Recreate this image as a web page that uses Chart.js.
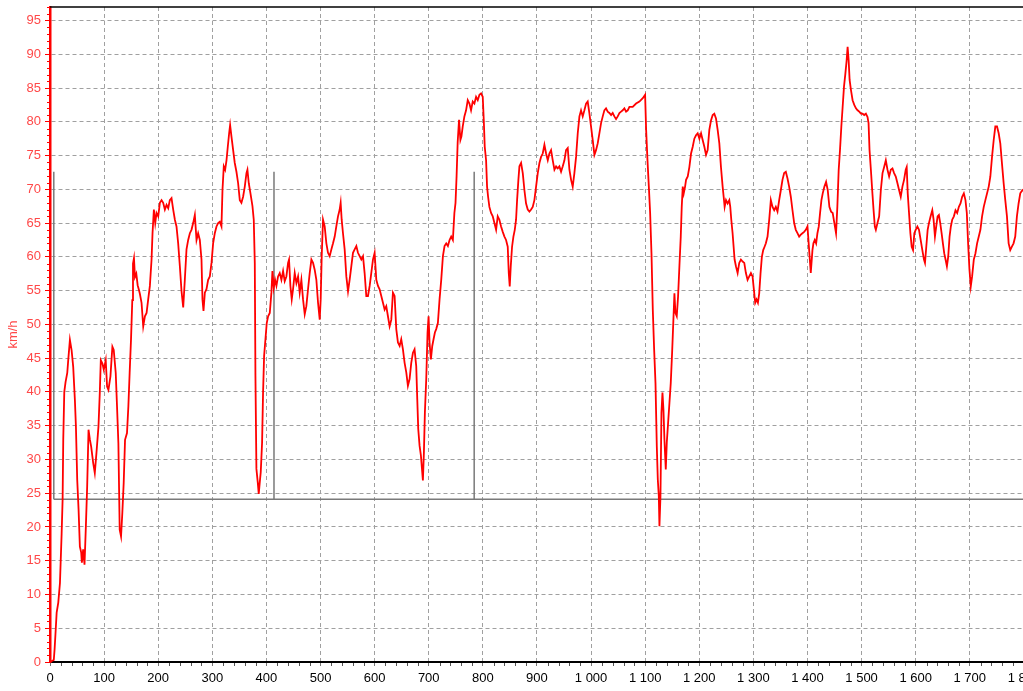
<!DOCTYPE html>
<html>
<head>
<meta charset="utf-8">
<title>Vitesse</title>
<script src="https://cdn.jsdelivr.net/npm/chart.js@4.4.1/dist/chart.umd.min.js"></script>
<style>
    html, body { margin: 0; padding: 0; background: #fff; overflow: hidden; }
    #wrap { position: absolute; left: 0; top: 0; width: 1078px; height: 691px; }
</style>
</head>
<body>
<div id="wrap"><canvas id="speed-chart" width="1078" height="691"></canvas></div>
<script>
// distance (m) et vitesse (km/h) relevées le long du parcours
const distance = [
    0, 7, 8.5, 10, 12.3, 15.3, 18.4, 21.5, 23.3, 24.5, 26.4, 28.8, 31.9, 33.7, 36.8, 39.9, 42.9, 46, 47.9, 50.3,
    52.8, 55.2, 57.7, 58.9, 61.3, 63.8, 66.3, 68.7, 71.2, 73.6, 76.1, 79.8, 82.8, 85.9, 89.6, 92, 93.9, 96.9, 99.4, 103,
    105.5, 108, 111.7, 115.3, 117.8, 121.5, 123.9, 126.4, 128.8, 131.3, 133.7, 136.2, 138.7, 142.3, 144.8, 147.2, 149.7, 152.1, 153.4, 155.2,
    157, 159.5, 162, 164.4, 166.2, 169.2, 172.3, 175.4, 178.5, 181.5, 184.6, 187.7, 189.5, 192, 194.5, 196.9, 200, 203.1, 206.2, 209.2,
    212.3, 215.4, 218.5, 221.5, 224.6, 227.7, 230.8, 233.8, 236.9, 240, 243.1, 246.2, 249.2, 252.3, 255.4, 258.5, 261.5, 264.6, 267.7, 270.8,
    273.8, 276.9, 280, 281.8, 283.7, 286.2, 289.2, 292.3, 295.4, 298.5, 301.5, 304.6, 307.7, 310.8, 313.8, 316.9, 318.8, 321.2, 323.7, 326.2,
    328.6, 331.1, 332.9, 335.4, 338.5, 341.5, 344.6, 347.7, 350.8, 353.8, 356.9, 360, 363.1, 364.9, 367.4, 370.5, 374.2, 376.6, 378.5, 379.7,
    381.5, 384, 385.8, 387.7, 389.5, 392, 393.8, 395.7, 398.2, 400.6, 403.1, 406.2, 409.2, 411.1, 413.5, 416, 418.5, 421.5, 424.6, 427.7,
    430.8, 433.8, 436.9, 440, 441.8, 444.3, 446.8, 449.2, 452.3, 455.4, 458.5, 461.5, 464.6, 467.7, 470.8, 473.8, 476.9, 480, 483.1, 486.2,
    489.2, 492.3, 495.4, 498.5, 500.3, 502.2, 504.6, 507.7, 510.8, 513.8, 516.9, 520, 523.1, 526.2, 529.2, 532.3, 535.4, 537.2, 539.1, 541.5,
    544.6, 547.7, 550.8, 553.8, 556.9, 560, 563.1, 566.2, 569.2, 572.3, 575.4, 578.5, 581.5, 584.6, 587.7, 590.8, 593.8, 596.9, 600, 603.1,
    606.2, 609.2, 612.3, 615.4, 618.5, 621.5, 624.6, 627.7, 630.8, 633.8, 636.9, 640, 643.1, 646.2, 649.2, 652.3, 655.4, 658.5, 661.5, 664.6,
    667.7, 670.8, 673.8, 676.9, 678.8, 680.6, 683.1, 685.5, 688, 689.2, 691.1, 692.9, 695.4, 697.8, 699.7, 701.5, 704, 706.5, 708.9, 711.4,
    713.8, 716.9, 720, 723.1, 726.2, 729.2, 732.3, 735.4, 738.5, 741.5, 744.6, 747.4, 749.5, 751.5, 753.5, 756, 758.5, 760.4, 762.8, 765.9,
    769, 772.1, 775.2, 778.2, 781.3, 784.4, 787.5, 790.6, 793.7, 796.7, 799.8, 801.7, 803.5, 806, 807.8, 809.7, 812.1, 815.2, 818.3, 821.4,
    824.5, 827.5, 830.6, 833.7, 836.8, 839.9, 842.9, 846, 847.9, 849.7, 851.6, 854, 856.5, 859, 861.4, 863.3, 865.7, 867.6, 870.7, 873.8,
    876.8, 879.9, 883, 886.1, 889.2, 892.2, 895.3, 898.4, 901.5, 904.6, 907.6, 910.7, 913.8, 916.9, 920, 923, 926.1, 929.2, 932.3, 935.4,
    938.4, 941.5, 944.6, 947.7, 950.8, 953.8, 956.9, 960, 963.1, 966.1, 969.2, 972.3, 975.4, 978.5, 981.5, 984.6, 987.7, 990.8, 993.8, 996.9,
    1000, 1003.1, 1006.2, 1009.2, 1012.3, 1015.4, 1018.5, 1021.6, 1024.6, 1027.7, 1030.8, 1033.9, 1037, 1040, 1043.1, 1046.2, 1049.3, 1052.4, 1055.5, 1058.5,
    1061.6, 1064.7, 1067.8, 1070.9, 1077, 1083.2, 1089.4, 1095.6, 1099.9, 1101.8, 1104.3, 1106.8, 1109.2, 1111.7, 1114.1, 1116.6, 1119.1, 1121.5, 1123.4, 1125.2,
    1126.4, 1128.3, 1130.1, 1132, 1133.8, 1135.6, 1138.1, 1140, 1142.4, 1144.9, 1147.3, 1149.8, 1152.2, 1154.1, 1155.9, 1158.4, 1160.8, 1163.3, 1165.8, 1167.6,
    1169.5, 1171.3, 1173.8, 1175.6, 1178.7, 1181.7, 1184.8, 1187.9, 1190.9, 1194, 1197.1, 1200.2, 1203.3, 1206.3, 1209.4, 1212.5, 1215.5, 1218.6, 1221.7, 1224.8,
    1227.8, 1230.9, 1234, 1237.1, 1240.1, 1243.2, 1245.1, 1246.9, 1249.4, 1252.4, 1255.5, 1257.3, 1259.2, 1261.6, 1263.5, 1265.3, 1267.8, 1270.9, 1273.9, 1277,
    1280.1, 1283.2, 1286.2, 1289.3, 1292.4, 1295.5, 1298.5, 1301, 1303.4, 1305.9, 1308.4, 1310.8, 1313.3, 1315.7, 1318.2, 1320.7, 1323.1, 1326.2, 1329.3, 1332.3,
    1335.4, 1338.5, 1341.5, 1344.6, 1347.7, 1350.8, 1353.8, 1356.9, 1360, 1363.1, 1366.1, 1369.2, 1372.3, 1375.4, 1378.4, 1381.5, 1384.6, 1387.7, 1390.7, 1393.8,
    1396.9, 1400, 1403.1, 1406.1, 1409.2, 1411, 1413.5, 1416, 1418.4, 1420.9, 1423.3, 1425.8, 1428.2, 1431.3, 1434.4, 1437.4, 1440.5, 1443.6, 1446.6, 1449.7,
    1452.8, 1455.2, 1457.7, 1460.1, 1462.6, 1465, 1467.5, 1470, 1472.4, 1474.2, 1476.1, 1477.9, 1480.4, 1483.4, 1486.5, 1489.6, 1492.6, 1495.7, 1498.8, 1501.8,
    1504.9, 1508, 1511, 1512.9, 1514.7, 1517.2, 1519.6, 1522.1, 1524.5, 1526.4, 1529.4, 1532.5, 1535.6, 1538.7, 1541.7, 1544.8, 1547.9, 1550.9, 1554, 1557.1,
    1560.1, 1563.2, 1566.3, 1569.3, 1572.4, 1575.5, 1578.5, 1581.6, 1583.4, 1585.3, 1587.7, 1590.2, 1592.6, 1595.1, 1597.5, 1600, 1603.1, 1606.1, 1609.2, 1612.3,
    1615.3, 1617.2, 1619.6, 1622.1, 1624.5, 1627.6, 1630.7, 1633.1, 1635.6, 1638, 1640.5, 1642.9, 1645.4, 1647.9, 1650.3, 1652.8, 1655.2, 1657.7, 1660.1, 1662.6,
    1665, 1667.5, 1670.6, 1673.6, 1676.7, 1679.8, 1682.8, 1685.9, 1689, 1692, 1694.5, 1696.9, 1699.4, 1701.8, 1704.3, 1707.4, 1710.4, 1713.5, 1716.6, 1719.6,
    1722.7, 1725.8, 1728.8, 1731.9, 1735, 1738, 1741.1, 1744.2, 1747.2, 1750.3, 1753.4, 1756.4, 1759.5, 1762.6, 1765.6, 1768.7, 1771.8, 1774.8, 1777.8, 1780.9,
    1784, 1787.1, 1790.2, 1793.3, 1795.7, 1799
];

const speed = [
    0, 0.3, 1.9, 4, 7.3, 8.8, 11.7, 19, 24, 33, 40, 41.5, 42.8, 44.7, 47.7, 46.2, 43.7, 38.8, 34.9, 27,
    22.6, 17.1, 16.2, 14.7, 16.7, 14.4, 20.1, 26, 34.4, 33, 31.9, 29.5, 28, 31, 34.9, 39.8, 44.7, 44.2, 43.3, 44.7,
    40.8, 40.3, 42.3, 46.7, 46.2, 42.8, 37.8, 32.4, 19.6, 18.6, 22.1, 26.5, 32.9, 33.9, 37.8, 42.8, 47.7, 53.6, 59, 59.8,
    57, 57.5, 55.8, 55.1, 54.5, 53.2, 49.7, 51.2, 51.7, 53.7, 55.7, 59.6, 63.5, 67, 65, 66.5, 66, 68, 68.4, 68,
    67, 67.7, 67.2, 68.4, 68.7, 67, 65.5, 64.5, 62, 58.6, 54.9, 52.5, 56.6, 61.1, 62.5, 63.5, 64, 65, 66.2, 62.5,
    63.5, 62.5, 59.6, 53.7, 52, 54.7, 55.2, 56.6, 57.1, 59.1, 62, 63.5, 64.5, 65, 65.2, 64.5, 69.9, 73.4, 72.9, 74.3,
    76.3, 78.3, 79.5, 77.8, 75.8, 73.9, 72.6, 70.9, 68.4, 68, 68.9, 70.4, 72.4, 72.9, 70.9, 69.4, 67.5, 65.5, 59.1, 42.4,
    28.6, 26.6, 24.9, 26.6, 28.1, 32.5, 39.9, 45.3, 47.8, 50.2, 51.2, 51.7, 54.7, 57.9, 55.4, 56.6, 55.7, 57.1, 57.6, 56.6,
    57.9, 56.4, 57.1, 59.1, 59.6, 55.7, 53.7, 55.2, 57.6, 56.1, 57.1, 54.7, 56.6, 53.7, 51.5, 52.7, 55.2, 57.6, 59.6, 59.1,
    58.1, 56.6, 53.2, 50.7, 53.7, 60.1, 65.5, 64.5, 62, 60.6, 60.1, 61.1, 62, 63, 64.5, 66, 67, 68, 65.5, 63.5,
    61.1, 57.1, 54.9, 56.6, 58.6, 60.6, 61.1, 61.6, 60.6, 60.1, 59.6, 60.1, 57.6, 54.2, 54.2, 55.7, 57.6, 59.6, 60.6, 56.6,
    55.7, 55.2, 54.2, 53.2, 52.2, 52.7, 51.2, 49.7, 50.7, 54.7, 54.2, 49.3, 47.3, 46.8, 47.8, 46.3, 44.3, 42.9, 40.9, 41.9,
    44.3, 45.8, 46.3, 43.8, 38.9, 34.5, 32, 30.6, 28.1, 26.9, 31.1, 37, 41.9, 48.8, 51.2, 47.3, 44.8, 46.8, 47.8, 48.8,
    49.3, 50.2, 53.7, 56.6, 60.1, 61.6, 62, 61.6, 62.5, 63, 62.5, 66.5, 68, 72, 77, 80.3, 77.3, 77.8, 79.3, 80.8,
    81.7, 83.2, 82.7, 81.7, 83, 82.7, 83.7, 83.2, 84, 84.2, 83.7, 80.3, 76.3, 74.3, 70.4, 68.9, 67.4, 66.5, 66, 65,
    64, 66, 65.5, 64.5, 63.7, 63, 62.5, 61.5, 57.6, 55.6, 58.6, 61.5, 63, 64, 65.5, 68.4, 71.4, 73.4, 73.9, 72.4,
    69.9, 67.9, 67, 66.7, 67, 67.4, 68.4, 70.4, 72.4, 73.9, 74.8, 75.3, 76.6, 75.3, 74.3, 75.3, 75.8, 74.3, 72.9, 73.4,
    73.1, 73.4, 72.6, 73.4, 74.3, 75.8, 76.1, 72.9, 71.4, 70.4, 72.4, 74.8, 78.3, 80.8, 81.7, 80.8, 81.7, 82.7, 83, 81.3,
    79.3, 77.3, 75.1, 75.8, 76.8, 78.3, 79.8, 80.8, 81.7, 82, 81.5, 81.3, 81, 81.3, 80.8, 80.4, 80.8, 81.3, 81.5, 81.7,
    82, 81.5, 81.7, 82.2, 82.2, 82.7, 83, 83.5, 84, 78.8, 74.3, 70.4, 66.5, 60.5, 52.2, 46.3, 41.3, 32, 27, 24.6,
    20.1, 24.6, 36.9, 39.9, 37.4, 33, 28.5, 32.5, 35.4, 38.4, 41.3, 45.8, 50.7, 54.6, 51.7, 51.2, 54.1, 58.6, 63, 67.4,
    70.4, 69.4, 70.4, 71.4, 71.9, 73.3, 75.3, 76.3, 77.5, 78, 78.3, 77.5, 78.3, 77.3, 76.3, 75.1, 75.8, 78.8, 80.2, 81,
    81.2, 80.5, 78.8, 76.8, 73.3, 70.4, 68.9, 67.4, 68.4, 67.9, 68.4, 67.4, 65.5, 63.5, 61.5, 59.6, 58.6, 57.6, 59.1, 59.6,
    59.3, 59.1, 57.6, 56.6, 57.1, 57.6, 57.1, 55.1, 53.2, 53.7, 53.2, 54.6, 57.6, 60, 61, 61.5, 62, 63, 65.5, 68.4,
    67.4, 66.9, 67.4, 66.7, 68.4, 69.9, 71.4, 72.4, 72.6, 71.6, 70.4, 68.9, 66.9, 65, 64, 63.5, 63, 63.3, 63.5, 63.7,
    64, 64.5, 61, 57.6, 61, 62, 62.5, 62, 63.5, 64.5, 66.5, 68.4, 69.4, 70.4, 71.1, 69.9, 67.4, 66.7, 66.5, 65,
    63.5, 67.4, 72.9, 75.8, 79.3, 82.2, 85.2, 87.1, 89.1, 91.1, 89.1, 86.2, 84.7, 83.2, 82.5, 82, 81.7, 81.5, 81.2, 81.2,
    81, 81.2, 80.7, 79.8, 75.8, 72.9, 69.9, 67, 64.5, 64, 65, 66, 69.9, 72.4, 73.3, 74.3, 72.9, 71.9, 72.9, 73.1,
    72.4, 71.9, 70.9, 69.9, 68.9, 70.4, 71.4, 72.9, 73.3, 69.4, 66.5, 63.5, 61.5, 61, 63.5, 64, 64.5, 64, 62.5, 61,
    59.6, 59.1, 61.5, 64, 65, 66, 66.9, 65.5, 63, 64.5, 66, 66.2, 65, 63.5, 62, 60.5, 59.6, 58.6, 60, 63,
    64.5, 65.5, 66, 66.9, 66.5, 67.4, 67.9, 68.9, 69.4, 68.4, 66.5, 62, 58.1, 55.6, 57.1, 59.6, 60.5, 62, 63, 64,
    66, 67.4, 68.4, 69.4, 70.4, 71.9, 74.8, 77.3, 79.3, 79.3, 78.3, 76.8, 73.8, 70.9, 68.4, 66, 62, 61, 61.5, 62,
    63, 66, 67.9, 69.4, 69.7, 70
];

// repères de tour : trois traits verticaux posés sur un palier horizontal
const markerDistances = [7, 414, 784];
const markerTop = 72.6;
const markerBase = 24.1;

// graduations
const xStep = 100;
const xMinorStep = 20;
const xMax = 1900;
const yStep = 5;
const yMinorStep = 1;
const yMax = 97;

const formatDistance = v => String(v).replace(/\B(?=(\d{3})+(?!\d))/g, ' ');

// petites graduations + cadre du haut
const axisDecor = {
    id: 'axisDecor',
    afterDraw(chart) {
        const { ctx, chartArea, scales: { x, y } } = chart;
        ctx.save();
        ctx.lineWidth = 1;
        ctx.strokeStyle = '#ff0000';
        ctx.beginPath();
        for (let v = 0; v <= yMax; v += yMinorStep) {
            if (v % yStep === 0) continue;
            const py = Math.round(y.getPixelForValue(v)) + 0.5;
            ctx.moveTo(chartArea.left - 3, py);
            ctx.lineTo(chartArea.left, py);
        }
        ctx.stroke();
        ctx.strokeStyle = '#555';
        ctx.beginPath();
        for (let v = 0; v <= xMax; v += xMinorStep) {
            if (v % xStep === 0) continue;
            const px = Math.round(x.getPixelForValue(v)) + 0.5;
            ctx.moveTo(px, chartArea.bottom + 1);
            ctx.lineTo(px, chartArea.bottom + 4);
        }
        ctx.stroke();
        ctx.strokeStyle = '#000';
        ctx.lineWidth = 1.5;
        ctx.beginPath();
        ctx.moveTo(chartArea.left, chartArea.top);
        ctx.lineTo(chartArea.right, chartArea.top);
        ctx.stroke();
        ctx.restore();
    }
};

const speedPoints = distance.map((d, i) => ({ x: d, y: speed[i] }));

const markerSets = markerDistances.map(d => ({
    data: [{ x: d, y: markerTop }, { x: d, y: markerBase }],
    borderColor: '#7a7a7a',
    borderWidth: 1.5,
    pointRadius: 0,
    order: 2
}));
markerSets.push({
    data: [{ x: markerDistances[0], y: markerBase }, { x: xMax, y: markerBase }],
    borderColor: '#7a7a7a',
    borderWidth: 1.5,
    pointRadius: 0,
    order: 2
});

new Chart(document.getElementById('speed-chart').getContext('2d'), {
    type: 'line',
    data: {
        datasets: [{
            label: 'km/h',
            data: speedPoints,
            borderColor: '#ff0000',
            borderWidth: 1.8,
            pointRadius: 0,
            tension: 0,
            order: 1
        }, ...markerSets]
    },
    options: {
        responsive: false,
        animation: false,
        layout: { padding: { top: 7, right: 0, left: 0, bottom: 0 } },
        plugins: { legend: { display: false }, tooltip: { enabled: false } },
        scales: {
            x: {
                type: 'linear',
                min: 0,
                max: xMax,
                afterFit: s => {
                    s.height = 29;
                    s.paddingLeft = 0;
                    s.paddingRight = 0;
                },
                ticks: {
                    stepSize: xStep,
                    includeBounds: false,
                    maxRotation: 0,
                    autoSkip: false,
                    padding: 5,
                    color: '#000',
                    font: { family: 'Liberation Sans', size: 13 },
                    callback: v => v > 1800 ? '' : formatDistance(v)
                },
                grid: { color: '#a0a0a0', lineWidth: 1, tickLength: 4, tickColor: '#777' },
                border: { color: '#000', width: 2, dash: [4, 3] }
            },
            y: {
                min: 0,
                max: yMax,
                afterFit: s => {
                    s.width = 50;
                    s.paddingTop = 0;
                    s.paddingBottom = 0;
                },
                ticks: {
                    stepSize: yStep,
                    includeBounds: false,
                    padding: 4,
                    color: '#ff4848',
                    font: { family: 'Liberation Sans', size: 13 }
                },
                grid: { color: '#a0a0a0', lineWidth: 1, tickLength: 5, tickColor: '#ff0000' },
                border: { color: '#ff0000', width: 2.5, dash: [4, 3] },
                title: {
                    display: true,
                    text: 'km/h',
                    color: '#ff4848',
                    padding: { top: 6, bottom: 0 },
                    font: { family: 'Liberation Sans', size: 13 }
                }
            }
        }
    },
    plugins: [axisDecor]
});
</script>
</body>
</html>
